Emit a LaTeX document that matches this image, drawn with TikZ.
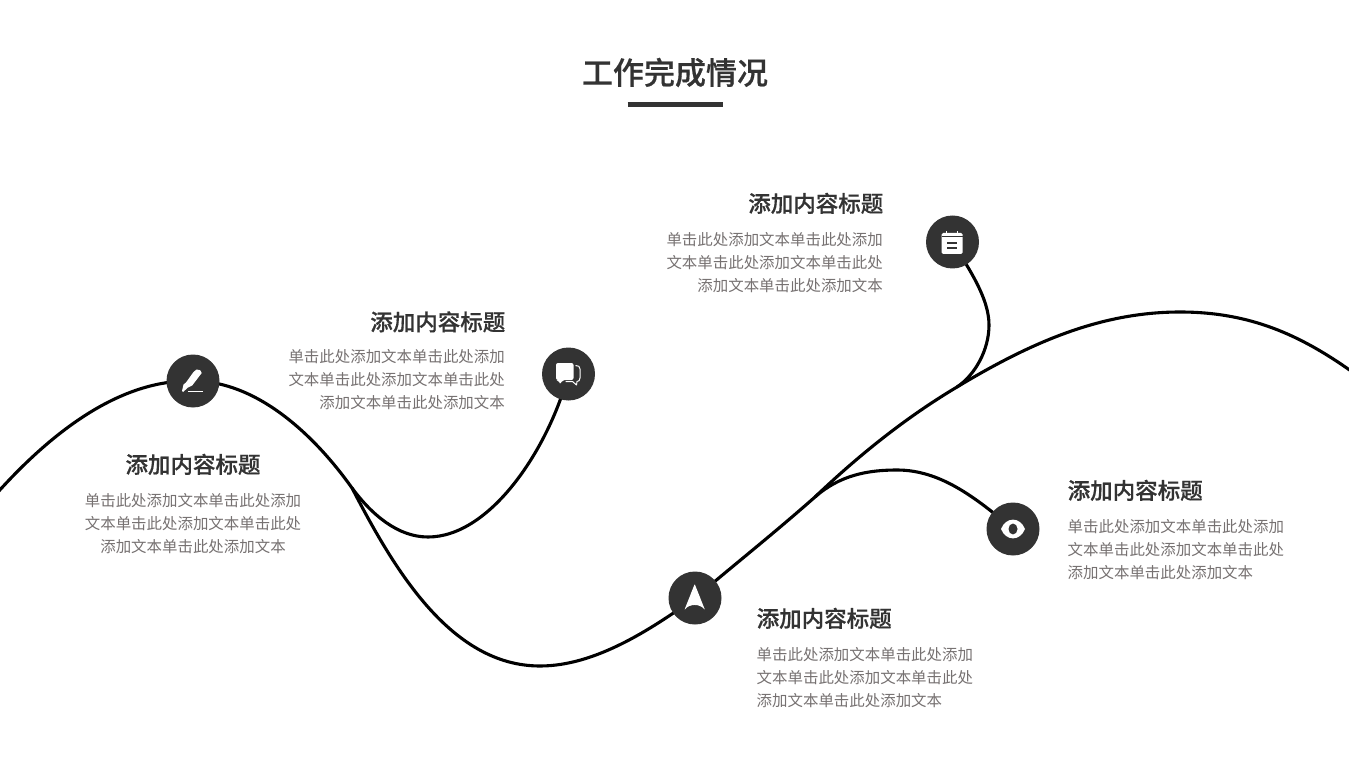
\documentclass[tikz,border=0pt]{standalone}
\usepackage{fontspec}
\usetikzlibrary{backgrounds}
\setmainfont{Noto Sans CJK SC}
\newfontfamily\medcjk[FakeBold=0.5]{Noto Sans CJK SC Medium}
\definecolor{dk}{HTML}{333333}
\definecolor{bodygrey}{HTML}{767171}
\tikzset{
  wave/.style={draw=black,line width=3.1pt,line cap=round},
  dot/.style={circle,fill=dk,minimum size=53pt,inner sep=0pt},
  head/.style={text=dk,font=\fontsize{22.5}{26}\selectfont\medcjk,inner sep=0pt},
  bodyl/.style={text=bodygrey,font=\fontsize{15.45}{23.2}\selectfont,align=left,inner sep=0pt},
  bodyr/.style={text=bodygrey,font=\fontsize{15.45}{23.2}\selectfont,align=right,inner sep=0pt},
  bodym/.style={text=bodygrey,font=\fontsize{15.45}{23.2}\selectfont,align=center,inner sep=0pt},
  ico/.style={fill=white,draw=none}
}
\begin{document}
\begin{tikzpicture}[x=1pt,y=-1pt]
\useasboundingbox (0,0) rectangle (1349,759);
\coordinate (start) at (-2,492);
\coordinate (end) at (1351,371);
\coordinate (j1) at (352,488);
\coordinate (j2) at (815,497);
\coordinate (j3) at (957,387);
\coordinate (m1) at (540,666);
\coordinate (m3) at (1180,312);
\coordinate (b1) at (428,537);
\coordinate (b2) at (897,470);
\coordinate (b3) at (989,325);
% circles
\node[dot] (n1) at (193,381) {};
\node[dot] (n2) at (568.5,374) {};
\node[dot] (n3) at (952.5,242) {};
\node[dot] (n4) at (1013,529) {};
\node[dot] (n5) at (695,598) {};
% curves, behind the circles
\begin{pgfonlayer}{background}
\draw[wave] (start) .. controls (45,440) and (115,379) .. (n1.center)
  .. controls (260,381) and (318,440) .. (j1)
  .. controls (393,567) and (450,666) .. (m1)
  .. controls (595,666) and (650,630) .. (n5.center)
  .. controls (740,560) and (773,534) .. (j2)
  .. controls (858,456) and (905,418) .. (j3)
  .. controls (1030,343) and (1100,312) .. (m3)
  .. controls (1250,312) and (1300,335) .. (end);
\draw[wave] (j1) .. controls (372,515) and (398,537) .. (b1)
  .. controls (490,537) and (548,450) .. (n2.center);
\draw[wave] (j2) .. controls (840,475) and (868,470) .. (b2)
  .. controls (940,470) and (975,497) .. (n4.center);
\draw[wave] (j3) .. controls (975,375) and (989,350) .. (b3)
  .. controls (989,298) and (969,269) .. (n3.center);
\end{pgfonlayer}
% title
\node[text=dk,font=\fontsize{31}{36}\selectfont\medcjk,inner sep=0pt] (title) at (675,72.5) {工作完成情况};
\coordinate (ruleL) at (627.5,104.3);
\coordinate (ruleR) at (722.5,104.3);
\draw[draw=dk,line width=4.6pt] (ruleL) -- (ruleR);
% pen icon
\begin{scope}[shift={(n1)}]
  \fill[ico] (0.5,-9) -- (3.5,-11.5) .. controls (6,-12) and (9,-10.5) .. (8.7,-8)
    -- (-0.8,4.5) -- (-5,6.5) -- (-10,11) -- (-11,10) -- (-9.5,3.5) -- (-7,1.5) -- cycle;
  \fill[ico] (-4.7,9.8) rectangle (9.7,11.3);
\end{scope}
% chat icon
\begin{scope}[shift={(n2)}]
  \fill[ico,rounded corners=2pt] (-12.5,-11) -- (5,-11) -- (5,6) -- (-6,6) -- (-8.5,10.5) -- (-10,6) -- (-12.5,6) -- cycle;
  \draw[white,line width=1pt,line join=round] (7,-8.5) .. controls (10,-8.5) and (11.5,-7.5) .. (11.5,-5) -- (11.5,4) .. controls (11.5,6.5) and (10,7.5) .. (8.5,7.5) -- (8,11) -- (4,7.5) -- (-3,7.5);
\end{scope}
% calendar icon
\begin{scope}[shift={(n3)}]
  \fill[ico,rounded corners=1.5pt] (-11,-9) rectangle (10.2,12);
  \fill[white] (-6.5,-11.3) rectangle (-5.2,-8);
  \fill[white] (4.2,-11.3) rectangle (5.5,-8);
  \fill[dk] (-11,-5.5) rectangle (10.2,-4.8);
  \fill[dk] (-5.8,0) rectangle (4.8,1.6);
  \fill[dk] (-5.8,5.5) rectangle (4.8,7.1);
\end{scope}
% eye icon
\begin{scope}[shift={(n4)}]
  \fill[ico] (-12,0) .. controls (-7,-12.5) and (7,-12.5) .. (12,0) .. controls (7,12.5) and (-7,12.5) .. (-12,0) -- cycle;
  \fill[dk] (0,0) ellipse (4.5 and 5.4);
\end{scope}
% arrow icon
\begin{scope}[shift={(n5)}]
  \fill[ico,rounded corners=0.8pt] (-0.3,-14) -- (10,12) .. controls (5,5.5) and (-5.6,5.5) .. (-10.6,12) -- cycle;
\end{scope}
% texts
\node[head,anchor=base] (h1) at (193,473) {添加内容标题};
\node[bodym,anchor=north] (t1) at (193,493) {单击此处添加文本单击此处添加\\文本单击此处添加文本单击此处\\添加文本单击此处添加文本};
\node[head,anchor=base east] (h2) at (505.5,330.5) {添加内容标题};
\node[bodyr,anchor=north east] (t2) at (505,349) {单击此处添加文本单击此处添加\\文本单击此处添加文本单击此处\\添加文本单击此处添加文本};
\node[head,anchor=base east] (h3) at (883.5,212) {添加内容标题};
\node[bodyr,anchor=north east] (t3) at (883,232) {单击此处添加文本单击此处添加\\文本单击此处添加文本单击此处\\添加文本单击此处添加文本};
\node[head,anchor=base west] (h4) at (1067.5,499) {添加内容标题};
\node[bodyl,anchor=north west] (t4) at (1067.5,519) {单击此处添加文本单击此处添加\\文本单击此处添加文本单击此处\\添加文本单击此处添加文本};
\node[head,anchor=base west] (h5) at (756.5,627) {添加内容标题};
\node[bodyl,anchor=north west] (t5) at (756.5,647) {单击此处添加文本单击此处添加\\文本单击此处添加文本单击此处\\添加文本单击此处添加文本};
\end{tikzpicture}
\end{document}
